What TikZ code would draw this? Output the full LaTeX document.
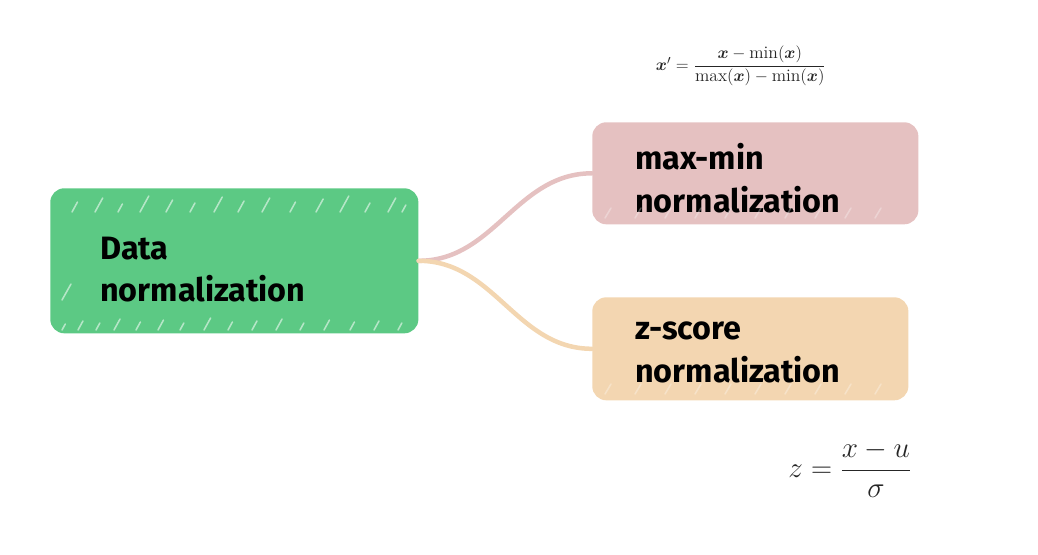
\documentclass[tikz,border=0pt]{standalone}
\usepackage{amsmath}
\usepackage{fontspec}
\setsansfont{Fira Sans}
\usetikzlibrary{positioning}
\definecolor{datagreen}{RGB}{92,201,132}
\definecolor{maxpink}{RGB}{229,193,193}
\definecolor{zorange}{RGB}{243,214,177}
\tikzset{
  topic/.style={rounded corners=10pt, align=left, anchor=north west,
    font=\sffamily\bfseries\fontsize{23}{30.5}\selectfont, text=black,
    inner ysep=0pt},
  branch/.style={line width=3.2pt, line cap=round},
  hatch/.style={white, line width=1.1pt, opacity=0.55, line cap=round}
}
\begin{document}
\begin{tikzpicture}[x=0.025cm, y=-0.025cm]
\useasboundingbox (0,0) rectangle (1038,554);
% boxes
\node[topic, fill=datagreen, inner xsep=1.25cm, text width=6.7cm,
      minimum height=3.625cm] (datanorm) at (50,188) {\rule{0pt}{1.0cm}Data\\normalization};
\node[topic, fill=maxpink, inner xsep=1.075cm, text width=6.0cm,
      minimum height=2.55cm] (maxmin) at (592,122) {\rule{0pt}{0.9cm}max-min\\normalization};
\node[topic, fill=zorange, inner xsep=1.075cm, text width=5.75cm,
      minimum height=2.575cm] (zscore) at (592,297) {\rule{0pt}{0.62cm}z-score\\normalization};
% sketchy strokes
\foreach \x/\l in {72/10,95/14,118/8,140/16,166/12,190/9,214/15,238/11,262/14,
                   290/10,316/13,340/16,365/9,388/14,402/7}
    \draw[hatch] (\x,212) -- ++(0.55*\l,-\l);
\foreach \x/\l in {62/6,78/9,96/7,114/11,136/8,158/10,180/7,204/12,228/8,
                   252/9,276/11,300/7,324/10,350/8,374/9,398/7}
    \draw[hatch] (\x,330) -- ++(0.55*\l,-\l);
\draw[hatch] (62,300) -- ++(9,-16);
\foreach \x in {605,635,...,900}
    \draw[hatch, opacity=0.3] (\x,218) -- ++(6,-10);
\foreach \x in {605,635,...,890}
    \draw[hatch, opacity=0.3] (\x,394) -- ++(6,-10);
% branches
\draw[branch, maxpink] (datanorm.east) to[out=0, in=180] (maxmin.west);
\draw[branch, zorange] (datanorm.east) to[out=0, in=180] (zscore.west);
% formulas
\node[text=black!85, font=\fontsize{12.5}{15}\selectfont] (fmaxmin) at (741,66)
    {$\boldsymbol{x}' = \dfrac{\boldsymbol{x} - \min(\boldsymbol{x})}{\max(\boldsymbol{x}) - \min(\boldsymbol{x})}$};
\node[text=black!85, font=\fontsize{20.5}{24}\selectfont] (fzscore) at (850,469)
    {$z = \dfrac{x-u}{\sigma}$};
\end{tikzpicture}
\end{document}
